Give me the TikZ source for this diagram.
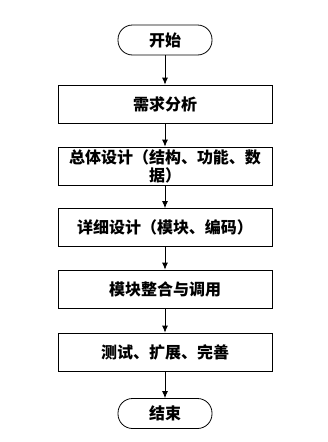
\documentclass[tikz,border=0pt]{standalone}
\usepackage{fontspec}
\setmainfont{Noto Sans CJK SC}
\usepackage{tikz}
\usetikzlibrary{arrows.meta}

\begin{document}
\begin{tikzpicture}[x=1pt, y=-1pt, line width=0.8pt,
    caja/.style={draw, rectangle, minimum width=214pt, minimum height=38pt, inner sep=1pt, align=center},
    terminal/.style={draw, rectangle, rounded corners=14.5pt, minimum width=94pt, minimum height=30pt}]
    \useasboundingbox (0,0) rectangle (327,442);
    \fontsize{16}{18}\selectfont\bfseries

    % Nodos de inicio y fin
    \node[terminal] (inicio) at (165, 40) {开始};
    \node[terminal] (fin) at (165, 413.5) {结束};

    % Pasos del proceso
    \node[caja] (n1) at (165, 104) {需求分析};
    \node[caja] (n2) at (165, 166) {总体设计（结构、功能、数\\据）};
    \node[caja] (n3) at (165, 227.5) {详细设计（模块、编码）};
    \node[caja] (n4) at (165, 289) {模块整合与调用};
    \node[caja] (n5) at (165, 352) {测试、扩展、完善};

    % Flechas entre los nodos
    \foreach \a/\b in {inicio/n1, n1/n2, n2/n3, n3/n4, n4/n5, n5/fin} {
        \draw[-{Latex[length=7pt, width=6pt]}] (\a) -- (\b);
    }

\end{tikzpicture}
\end{document}
